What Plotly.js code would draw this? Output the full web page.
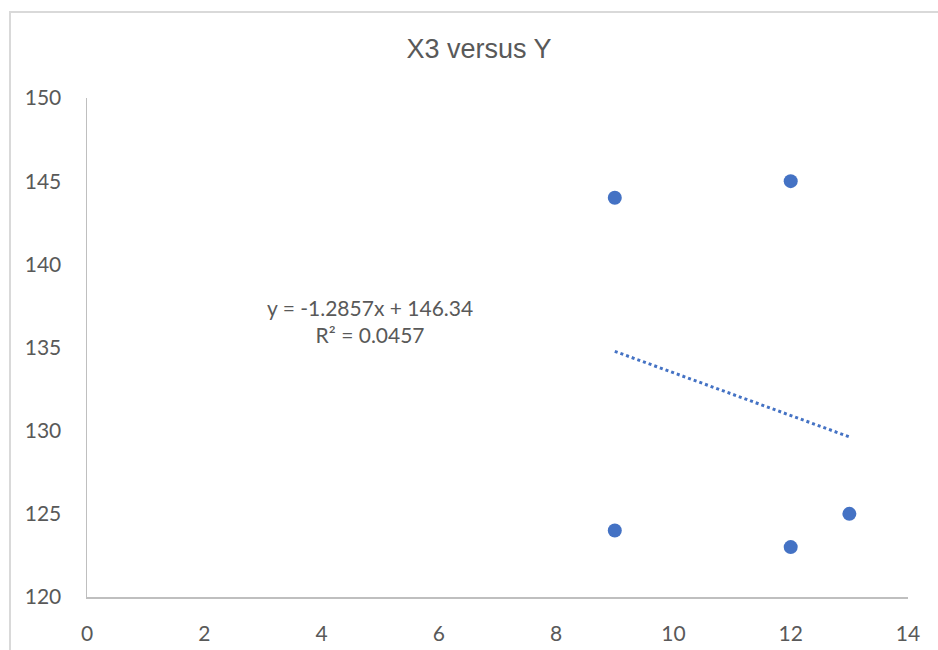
<!DOCTYPE html>
<html>
<head>
<meta charset="utf-8">
<script src="https://cdn.plot.ly/plotly-3.0.1.min.js"></script>
<style>
html,body{margin:0;padding:0;overflow:hidden;background:#fff;}
#chart{position:absolute;left:0;top:0;width:938px;height:650px;}
#frame{position:absolute;left:9px;top:11px;width:1000px;height:1000px;border:2px solid #d9d9d9;pointer-events:none;}
</style>
</head>
<body>
<div id="chart"></div>
<div id="frame"></div>
<script>
const xValues = [9, 12, 9, 12, 13];
const yValues = [144, 145, 124, 123, 125];
const slope = -1.2857;
const intercept = 146.34;
const rSquared = 0.0457;
const xTicks = [0, 2, 4, 6, 8, 10, 12, 14];
const yTicks = [120, 125, 130, 135, 140, 145, 150];

const xMin = Math.min(...xValues), xMax = Math.max(...xValues);
const trendX = [xMin, xMax];
const trendY = trendX.map(x => slope * x + intercept);

const blue = '#4472C4';
const textColor = '#595959';
const font = 'Lato, "Open Sans", sans-serif';

const data = [
  {x: xValues, y: yValues, type: 'scatter', mode: 'markers',
   marker: {color: blue, size: 14}, hoverinfo: 'skip', showlegend: false},
  {x: trendX, y: trendY, type: 'scatter', mode: 'lines',
   line: {color: blue, width: 3, dash: 'dot'}, hoverinfo: 'skip', showlegend: false}
];

const layout = {
  width: 938, height: 650,
  margin: {l: 87, r: 30, t: 98, b: 53},
  paper_bgcolor: '#fff', plot_bgcolor: '#fff',
  title: {text: 'X3 versus Y', x: 0.5107, xanchor: 'center', y: 0.925, yanchor: 'middle',
          font: {family: '"Liberation Sans", Arial, sans-serif', size: 27, color: textColor}},
  xaxis: {range: [0, 14], tickvals: xTicks, ticktext: xTicks.map(String),
          showgrid: false, zeroline: false, showline: true, linecolor: '#bfbfbf', linewidth: 1.5,
          ticks: '', ticklabelstandoff: 17, tickfont: {family: font, size: 21, color: textColor}},
  yaxis: {range: [120, 150], tickvals: yTicks, ticktext: yTicks.map(String),
          showgrid: false, zeroline: false, showline: true, linecolor: '#bfbfbf', linewidth: 1.5,
          ticks: '', ticklabelstandoff: 20, tickfont: {family: font, size: 21, color: textColor}},
  annotations: [{
    x: 4.83, y: 136.6, xref: 'x', yref: 'y',
    text: 'y = ' + slope + 'x + ' + intercept + '<br>R² = ' + rSquared,
    showarrow: false, align: 'center',
    font: {family: font, size: 21, color: textColor}
  }]
};

Plotly.newPlot('chart', data, layout, {staticPlot: true, displayModeBar: false});
</script>
</body>
</html>
